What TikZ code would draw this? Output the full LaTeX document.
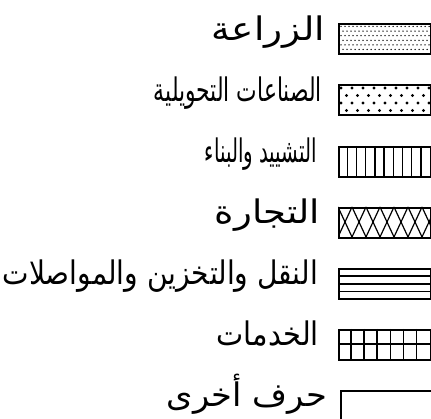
\documentclass[tikz,border=0pt]{standalone}
\usepackage{graphicx}
\usepackage{fontspec}
\TeXXeTstate=1
\newfontfamily\arabicfont[Script=Arabic]{DejaVu Sans}
\newcommand{\arlab}[2]{\resizebox{#1pt}{1.3\height}{\arabicfont\fontsize{25}{28}\selectfont #2}}
\begin{document}
\begin{tikzpicture}[x=1pt,y=-1pt,
  box/.style={draw, line width=1.8pt, minimum width=92pt, minimum height=30pt, anchor=north west, inner sep=0pt},
  lab/.style={anchor=base east, inner sep=0pt},
  hatch/.style={line width=1.4pt}]
\useasboundingbox (0,0) rectangle (431,419);
\clip (0,0) rectangle (431,419);
% box 1: fine dots
\foreach \r in {0,...,5}{
  \foreach \c in {0,...,22}{
    \fill ({341+\c*4+mod(\r,2)*2},{26.5+\r*4.6}) circle (0.75);
  }
}
\node[box] (b1) at (338,23) {};
% box 2: coarse dots
\foreach \r in {0,...,3}{
  \foreach \c in {0,...,8}{
    \fill ({341+\c*11+mod(\r,2)*5.5},{88+\r*7.5}) circle (1.6);
  }
}
\node[box] (b2) at (338,84.5) {};
% box 3: vertical lines
\foreach \k in {1,...,9}{
  \draw[hatch] ({338+\k*9.2},146) -- ({338+\k*9.2},176);
}
\node[box] (b3) at (338,146) {};
% box 4: crosshatch
\begin{scope}
  \clip (338,207) rectangle (430,237);
  \foreach \k in {-1,...,7}{
    \draw[line width=1.2pt] ({338+\k*14},207) -- ({338+\k*14+14},237);
    \draw[line width=1.2pt] ({338+\k*14+14},207) -- ({338+\k*14},237);
  }
\end{scope}
\node[box] (b4) at (338,207) {};
% box 5: horizontal lines
\foreach \yy in {276,284,291.5}{
  \draw[hatch] (338,\yy) -- (430,\yy);
}
\node[box] (b5) at (338,268) {};
% box 6: grid
\foreach \k in {1,...,6}{
  \draw[line width=1.7pt] ({338+\k*13.1},329) -- ({338+\k*13.1},359);
}
\draw[line width=1.7pt] (338,344) -- (430,344);
\node[box] (b6) at (338,329) {};
% box 7: empty
\node[box] (b7) at (340,390) {};
% labels
\node[lab] (l1) at (325,41) {\arlab{113}{\beginR الزراعة\endR}};
\node[lab] (l2) at (322,102) {\arlab{168}{\beginR الصناعات التحويلية\endR}};
\node[lab] (l3) at (317,163) {\arlab{112}{\beginR التشييد والبناء\endR}};
\node[lab] (l4) at (320,224) {\arlab{105}{\beginR التجارة\endR}};
\node[lab] (l5) at (318,285) {\arlab{315}{\beginR النقل والتخزين والمواصلات\endR}};
\node[lab] (l6) at (319,346) {\arlab{102}{\beginR الخدمات\endR}};
\node[lab] (l7) at (327,407) {\arlab{160}{\beginR حرف أخرى\endR}};
\end{tikzpicture}
\end{document}
